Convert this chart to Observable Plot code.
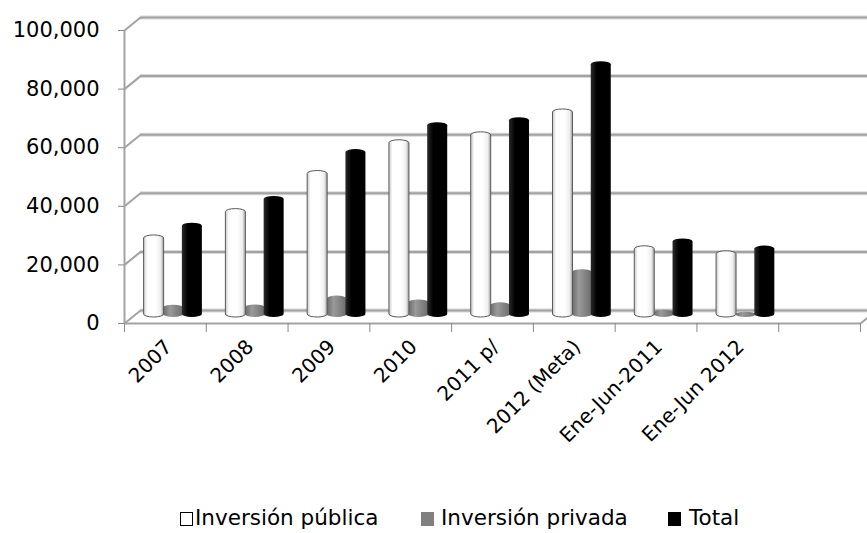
<!DOCTYPE html>
<html><head><meta charset="utf-8">
<script src="https://cdn.jsdelivr.net/npm/d3@7"></script>
<script src="https://cdn.jsdelivr.net/npm/@observablehq/plot@0.6"></script>
<style>
html,body{margin:0;padding:0;background:#fff;overflow:hidden;width:867px;height:533px;}
#wrap{position:relative;width:867px;height:533px;}
.leg{position:absolute;top:503px;font-family:"DejaVu Sans",sans-serif;font-size:21.5px;color:#000;white-space:nowrap;line-height:30px;}
.sw{position:absolute;width:13px;height:14px;box-sizing:border-box;}
</style></head>
<body><div id="wrap"></div>
<script>
const categories = ["2007","2008","2009","2010","2011 p/","2012 (Meta)","Ene-Jun-2011","Ene-Jun 2012"];
const publica = [28000, 37000, 50000, 60500, 63200, 71000, 24300, 22600];
const privada = [4200, 4300, 7300, 6000, 5000, 16300, 2500, 1800];
const total   = [32200, 41300, 57300, 66500, 68200, 87300, 26800, 24400];
const yTicks  = [0, 20000, 40000, 60000, 80000, 100000];
const seriesNames = ["Inversión pública", "Inversión privada", "Total"];

const W = 867, H = 495, ML = 124, MR = 7, MT = 30, MB = H - 323;
const nSlots = 9;
const slotPx = (W - ML - MR) / nSlots;
const yPx = (H - MT - MB) / 100000;
const DX = 16, DY = 13;             // depth of the 3D box, px
const depthX = DX / slotPx, depthY = DY / yPx;
const barW = 20 / slotPx;
const LIFT = -6;
const offs = {pri: 0.6, pub: 0.362, tot: 0.83};
const grid = "#a3a3a3";

const rows = categories.map((c, i) => ({i, c, pub: publica[i], pri: privada[i], tot: total[i]}));

function bars(key, fill, stroke, label) {
  return Plot.rect(rows, {
    x1: d => d.i + offs[key] - barW / 2,
    x2: d => d.i + offs[key] + barW / 2,
    y1: 0, y2: key, dy: LIFT,
    fill, stroke, strokeWidth: stroke === "none" ? 0 : 1,
    rx: 10, ry: 3, ariaLabel: label
  });
}

const chart = Plot.plot({
  width: W, height: H,
  marginLeft: ML, marginRight: MR, marginTop: MT, marginBottom: MB,
  style: {fontFamily: "DejaVu Sans, sans-serif", fontSize: "20px", color: "#000", background: "#fff", overflow: "visible"},
  x: {domain: [0, nSlots]},
  y: {domain: [0, 100000]},
  marks: [
    // back wall gridlines
    Plot.ruleY(yTicks, {x1: depthX, x2: nSlots + 0.5, y: d => d + depthY, stroke: "#d8d8d8", strokeWidth: 4}),
    Plot.ruleY(yTicks, {x1: depthX, x2: nSlots + 0.5, y: d => d + depthY, stroke: grid, strokeWidth: 2}),
    // side wall diagonals
    Plot.link(yTicks, {x1: 0, y1: d => d, x2: depthX, y2: d => d + depthY, stroke: grid, strokeWidth: 2}),
    // right floor diagonal
    Plot.link([nSlots], {x1: d => d, y1: 0, x2: d => d + depthX, y2: depthY, stroke: grid, strokeWidth: 2}),
    // front left edge & floor front edge
    Plot.ruleX([0], {y1: 0, y2: 100000, stroke: grid, strokeWidth: 2}),
    Plot.ruleY([0], {x1: 0, x2: nSlots, stroke: grid, strokeWidth: 2}),
    Plot.axisY(yTicks, {tickSize: 6, tickPadding: 19, stroke: "#888", tickFormat: d3.format(","), label: null, fill: "#000", fontSize: 21}),
    Plot.axisX(d3.range(nSlots + 1), {tickSize: 9, stroke: "#888", tickFormat: () => "", label: null}),
    Plot.axisX(categories.map((c, i) => i + 0.5), {tickSize: 0, tickRotate: -45, tickPadding: 8, dx: 3, dy: 12,
      tickFormat: d => categories[Math.floor(d)], label: null, fill: "#000", fontSize: 20}),
    bars("pri", "url(#gGray)", "none", "bar-pri"),
    bars("pub", "url(#gWhite)", "#5a5a5a", "bar-pub"),
    bars("tot", "url(#gBlack)", "none", "bar-tot")
  ]
});

const svg = d3.select(chart);
svg.insert("defs", ":first-child").html(`
  <linearGradient id="gWhite" x1="0" x2="1" y1="0" y2="0">
    <stop offset="0" stop-color="#c8c8c8"/><stop offset="0.18" stop-color="#ffffff"/>
    <stop offset="0.6" stop-color="#ffffff"/><stop offset="0.85" stop-color="#eeeeee"/>
    <stop offset="1" stop-color="#a0a0a0"/></linearGradient>
  <linearGradient id="gGray" x1="0" x2="1" y1="0" y2="0">
    <stop offset="0" stop-color="#6a6a6a"/><stop offset="0.35" stop-color="#9a9a9a"/>
    <stop offset="1" stop-color="#6c6c6c"/></linearGradient>
  <linearGradient id="gBlack" x1="0" x2="1" y1="0" y2="0">
    <stop offset="0" stop-color="#2a2a2a"/><stop offset="0.3" stop-color="#000"/>
    <stop offset="1" stop-color="#000"/></linearGradient>`);

const tops = {"bar-pub": ["#d9d9d9", "#444"], "bar-pri": ["#a8a8a8", "#777"], "bar-tot": ["#1c1c1c", "#000"]};
for (const [lab, [f, s]] of Object.entries(tops)) {
  svg.selectAll(`g[aria-label="${lab}"] rect`).each(function () {
    const r = d3.select(this);
    r.attr("rx", 10).attr("ry", 3);
    const x = +r.attr("x"), y = +r.attr("y"), w = +r.attr("width");
    d3.select(this.parentNode).append("ellipse")
      .attr("transform", r.attr("transform"))
      .attr("cx", x + w / 2).attr("cy", y + 3).attr("rx", w / 2 - 0.5).attr("ry", 2.6)
      .attr("fill", f).attr("stroke", s).attr("stroke-width", 1.2);
  });
}

const wrap = document.getElementById("wrap");
wrap.appendChild(chart);
const legendItems = [
  {name: seriesNames[0], sw: 180, tx: 195, fill: "#fff", border: "1.5px solid #000"},
  {name: seriesNames[1], sw: 421, tx: 441, fill: "#808080", border: "none"},
  {name: seriesNames[2], sw: 668, tx: 689, fill: "#000", border: "none"}
];
for (const it of legendItems) {
  const s = document.createElement("div");
  s.className = "sw"; s.style.left = it.sw + "px"; s.style.top = "512px";
  s.style.background = it.fill; s.style.border = it.border;
  wrap.appendChild(s);
  const t = document.createElement("div");
  t.className = "leg"; t.style.left = it.tx + "px"; t.textContent = it.name;
  wrap.appendChild(t);
}
</script></body></html>
